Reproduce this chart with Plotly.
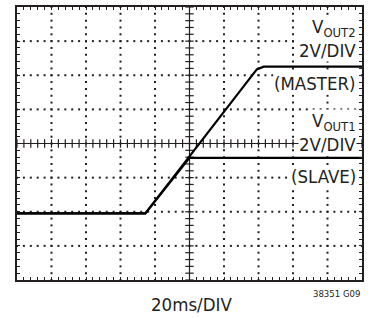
import numpy as np
import plotly.graph_objects as go

# Data (in scope divisions: x 0-10, y 0-8)
master_t = [0, 3.72, 6.95, 7.15, 10]
master_v = [1.95, 1.95, 6.17, 6.25, 6.25]
slave_t = [0, 3.72, 5.0, 10]
slave_v = [1.95, 1.95, 3.58, 3.58]

labels_right = ["V<sub>OUT2</sub>", "2V/DIV", "(MASTER)", "V<sub>OUT1</sub>", "2V/DIV", "(SLAVE)"]
labels_y = [7.38, 6.72, 5.75, 4.62, 3.97, 3.04]

FONT = "DejaVu Sans Condensed, DejaVu Sans, sans-serif"
INK = "#231f20"

fig = go.Figure()

# grid dots
minor = np.round(np.arange(0, 10.001, 0.2), 3)
minor_y = np.round(np.arange(0, 8.001, 0.2), 3)
gx, gy = [], []
for i in range(1, 10):
    if i == 5:
        continue
    gx += [i] * len(minor_y)
    gy += list(minor_y)
for j in range(1, 8):
    if j == 4:
        continue
    gx += list(minor)
    gy += [j] * len(minor)
fig.add_trace(go.Scatter(x=gx, y=gy, mode="markers", hoverinfo="skip",
                         marker=dict(symbol="square", size=2, color=INK, line=dict(width=0))))

# center crosshair lines with ticks
fig.add_trace(go.Scatter(x=[0, 10], y=[4, 4], mode="lines", line=dict(color=INK, width=1.2), hoverinfo="skip"))
fig.add_trace(go.Scatter(x=[5, 5], y=[0, 8], mode="lines", line=dict(color=INK, width=1.2), hoverinfo="skip"))
fig.add_trace(go.Scatter(x=minor, y=[4] * len(minor), mode="markers", hoverinfo="skip",
                         marker=dict(symbol="line-ns", size=6, line=dict(color=INK, width=1.2))))
fig.add_trace(go.Scatter(x=[5] * len(minor_y), y=minor_y, mode="markers", hoverinfo="skip",
                         marker=dict(symbol="line-ew", size=6, line=dict(color=INK, width=1.2))))

# signal traces
fig.add_trace(go.Scatter(x=master_t, y=master_v, mode="lines", line=dict(color="black", width=2.2)))
fig.add_trace(go.Scatter(x=slave_t, y=slave_v, mode="lines", line=dict(color="black", width=2.2)))

for txt, yv in zip(labels_right, labels_y):
    fig.add_annotation(x=9.855, y=yv, xref="x", yref="y", text=txt, showarrow=False,
                       xanchor="right", yanchor="middle", bgcolor="white", borderpad=0,
                       font=dict(family=FONT, size=18.5, color=INK))

fig.add_annotation(x=1.0, y=-0.022, xref="paper", yref="paper", text="38351 G09", showarrow=False,
                   xanchor="right", yanchor="top", font=dict(family=FONT, size=9.5, color=INK))
fig.add_annotation(x=0.505, y=-0.045, xref="paper", yref="paper", text="20ms/DIV", showarrow=False,
                   xanchor="center", yanchor="top", font=dict(family=FONT, size=18.5, color=INK))

axis_common = dict(showgrid=False, zeroline=False, showticklabels=False, showline=True,
                   linecolor=INK, linewidth=1.5, mirror="allticks", ticks="inside",
                   ticklen=3, tickwidth=1, tickcolor=INK, fixedrange=True)
fig.update_xaxes(range=[0, 10], dtick=0.2, tick0=0, **axis_common)
fig.update_yaxes(range=[0, 8], dtick=0.2, tick0=0, **axis_common)

fig.update_layout(width=373, height=318, margin=dict(l=17, r=11, t=5, b=38),
                  paper_bgcolor="white", plot_bgcolor="white", showlegend=False)

fig.write_html("out.html", config={"displayModeBar": False},
               post_script="document.body.style.margin='0';document.body.style.overflow='hidden';")
